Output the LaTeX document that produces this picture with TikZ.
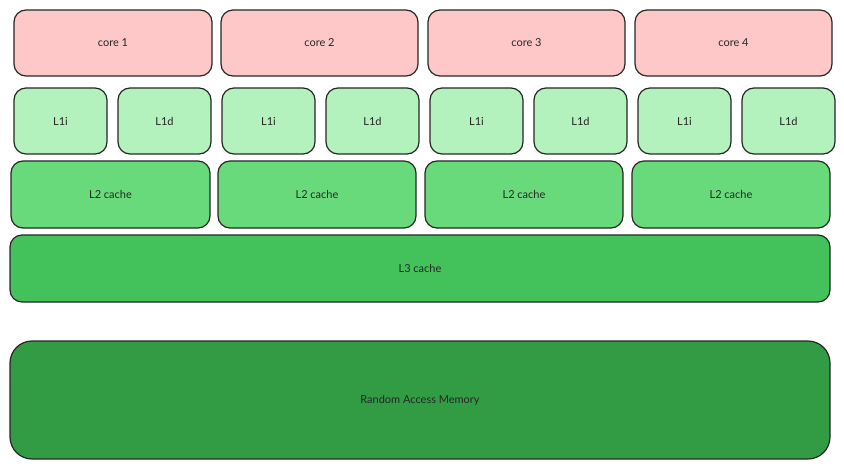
\documentclass[tikz,border=0pt]{standalone}
\usepackage{fontspec}
\setmainfont{Lato}
\definecolor{cc}{HTML}{FFC8C8}
\definecolor{l1}{HTML}{B3F2BD}
\definecolor{l2}{HTML}{69DA7C}
\definecolor{l3}{HTML}{43C15A}
\definecolor{ram}{HTML}{329C44}
\begin{document}
\begin{tikzpicture}[x=1pt,y=-1pt,
 box/.style={draw=black!85,line width=1.2pt,rounded corners=12pt},
 lbl/.style={font=\fontsize{11}{13}\selectfont,text=black!85}]
\useasboundingbox (0,0) rectangle (844,468);
\newcommand{\bx}[6]{\draw[box,fill=#6] (#2,#3) rectangle (#4,#5);
 \node[lbl] (#1) at ({(#2+#4)/2},{(#3+#5)/2}) {#1};}
\foreach \a/\b/\n in {14/212/1,221/418/2,428/625/3,635/832/4}{
 \draw[box,fill=cc] (\a,10) rectangle (\b,76);
 \node[lbl] (core\n) at ({(\a+\b)/2},43) {core \n};}
\foreach \a/\b/\c/\d/\n in {14/107/118/211/1,222/315/326/419/2,430/523/534/627/3,638/731/742/835/4}{
 \draw[box,fill=l1] (\a,88) rectangle (\b,154);
 \node[lbl] (l1i\n) at ({(\a+\b)/2},121) {L1i};
 \draw[box,fill=l1] (\c,88) rectangle (\d,154);
 \node[lbl] (l1d\n) at ({(\c+\d)/2},121) {L1d};}
\foreach \a/\b/\n in {11/210/1,218/416/2,425/623/3,632/830/4}{
 \draw[box,fill=l2] (\a,161) rectangle (\b,228);
 \node[lbl] (l2\n) at ({(\a+\b)/2},194.5) {L2 cache};}
\draw[box,fill=l3] (10,235) rectangle (830,302);
\node[lbl] (l3) at (420,268.5) {L3 cache};
\draw[box,fill=ram,rounded corners=22pt] (10,341) rectangle (830,459);
\node[lbl] (ram) at (420,400) {Random Access Memory};
\end{tikzpicture}
\end{document}
